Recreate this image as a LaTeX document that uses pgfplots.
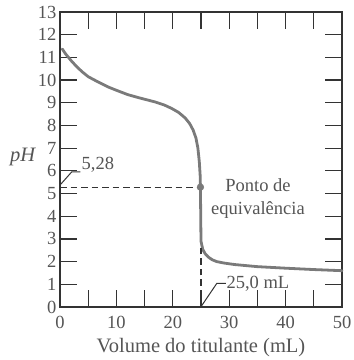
\documentclass[border=0pt]{standalone}
\usepackage{pgfplots}
\pgfplotsset{compat=1.18}
\usepackage{fontspec}
\setmainfont{Liberation Serif}
\definecolor{txt}{HTML}{555555}
\definecolor{ax}{HTML}{333333}
\definecolor{crv}{HTML}{7A7A7A}
\begin{document}
\begin{tikzpicture}
\begin{axis}[
 scale only axis, width=282pt, height=295pt,
 xmin=0, xmax=50, ymin=0, ymax=13,
 xtick={0,10,...,50}, minor xtick={5,15,...,45},
 ytick={0,1,...,13},
 tick align=inside, major tick length=17pt, minor tick length=17pt,
 xtick pos=both, ytick pos=both,
 tick style={ax, line width=1.2pt},
 axis line style={ax, line width=1.5pt},
 tick label style={font=\fontsize{18.5}{19}\selectfont, text=txt},
 xticklabel style={yshift=-6pt},
 /pgf/number format/assume math mode=true,
 label style={font=\fontsize{20.5}{21}\selectfont, text=txt},
 xlabel={Volume do titulante (mL)},
 xlabel style={at={(axis description cs:0.5,-0.139)}, anchor=center},
 ylabel={\textit{pH}},
 ylabel style={rotate=-90, at={(axis description cs:-0.131,0.508)}, anchor=center},
 clip=false,
]
\addplot[crv, line width=2.8pt, line join=round, line cap=round] coordinates {
(0.4,11.37) (1,11.15) (2,10.85) (3,10.58) (4,10.35) (5,10.15) (6.5,9.95)
(8.5,9.7) (10,9.55) (12,9.36) (14,9.22) (16.8,9.04) (18.5,8.9) (19.8,8.75)
(21,8.58) (22.2,8.33) (23,8.08) (23.6,7.8) (24.1,7.45) (24.45,7.0) (24.7,6.4)
(24.85,5.8) (24.9,5.28) (24.95,4.0) (25.0,2.9) (25.3,2.55) (25.7,2.36)
(26.3,2.2) (27,2.08) (27.8,2.0) (29,1.94) (31,1.87) (34.9,1.78) (40,1.71)
(45,1.65) (50,1.6)};
\addplot[ax, line width=1.3pt, dash pattern=on 6.5pt off 4pt] coordinates {(0,5.28) (24.9,5.28)};
\addplot[ax, line width=1.3pt, dash pattern=on 6.5pt off 4pt] coordinates {(25,0) (25,2.7)};
\addplot[only marks, mark=*, mark size=3.4pt, crv] coordinates {(24.9,5.28)};
\draw[ax, line width=1pt] (axis cs:0.1,5.4) -- (axis cs:2.1,5.96) -- (axis cs:3.6,5.96);
\node[anchor=west, inner sep=0pt, text=txt, font=\fontsize{18.5}{19}\selectfont] at (axis cs:3.8,6.25) {5,28};
\draw[ax, line width=1pt] (axis cs:25.1,0.05) -- (axis cs:27.8,1.04) -- (axis cs:29.4,1.04);
\node[anchor=west, inner sep=0pt, text=txt, font=\fontsize{18.5}{19}\selectfont] at (axis cs:29.5,1.04) {25,0 mL};
\node[align=center, text=txt, font=\fontsize{18.5}{23}\selectfont] at (axis cs:35.1,4.78) {Ponto de\\equivalência};
\end{axis}
\pgfresetboundingbox
\path ([shift={(-60pt,-53pt)}]current axis.south west) rectangle ([shift={(11pt,12pt)}]current axis.north east);
\end{tikzpicture}
\end{document}
